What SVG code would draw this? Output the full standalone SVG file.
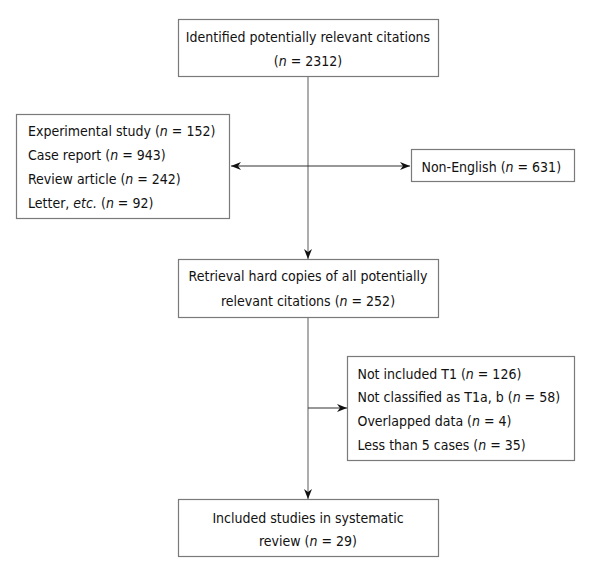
<svg xmlns="http://www.w3.org/2000/svg" width="590" height="575" viewBox="0 0 590 575">
<style>
.box{fill:#fff;stroke:#7a7a7a;stroke-width:1.2}
text{font-family:"DejaVu Sans Condensed","DejaVu Sans",sans-serif;font-stretch:condensed;font-size:14px;fill:#111}
.c{text-anchor:middle}
.vline{stroke:#999;stroke-width:1.6;fill:none}
.hline{stroke:#333;stroke-width:1.1;fill:none}
</style>
<defs>
<marker id="ah" viewBox="0 0 10 8" refX="10" refY="4" markerWidth="10" markerHeight="8" markerUnits="userSpaceOnUse" orient="auto-start-reverse">
<path d="M0,0 L10,4 L0,8 L3,4 z" fill="#111"/>
</marker>
</defs>
<g id="connectors">
<line class="vline" x1="308" y1="77" x2="308" y2="259" marker-end="url(#ah)"/>
<line class="vline" x1="308" y1="317" x2="308" y2="499" marker-end="url(#ah)"/>
<line class="hline" x1="231" y1="166" x2="410" y2="166" marker-start="url(#ah)" marker-end="url(#ah)"/>
<line class="hline" x1="308" y1="408" x2="347" y2="408" marker-end="url(#ah)"/>
</g>
<g id="identified">
<rect class="box" x="178.5" y="19.5" width="260" height="57"/>
<text class="c" x="308" y="42">Identified potentially relevant citations</text>
<text class="c" x="308" y="66">(<tspan font-style="italic">n</tspan> = 2312)</text>
</g>
<g id="excluded1">
<rect class="box" x="16.5" y="114.5" width="213" height="104"/>
<text x="28" y="136">Experimental study (<tspan font-style="italic">n</tspan> = 152)</text>
<text x="28" y="160">Case report (<tspan font-style="italic">n</tspan> = 943)</text>
<text x="28" y="184">Review article (<tspan font-style="italic">n</tspan> = 242)</text>
<text x="28" y="207.5">Letter, <tspan font-style="italic">etc.</tspan> (<tspan font-style="italic">n</tspan> = 92)</text>
</g>
<g id="nonenglish">
<rect class="box" x="411.5" y="149.5" width="163" height="32"/>
<text x="421.5" y="171.5">Non-English (<tspan font-style="italic">n</tspan> = 631)</text>
</g>
<g id="retrieval">
<rect class="box" x="178.5" y="259.5" width="260" height="58"/>
<text class="c" x="308" y="281">Retrieval hard copies of all potentially</text>
<text class="c" x="308" y="306">relevant citations (<tspan font-style="italic">n</tspan> = 252)</text>
</g>
<g id="excluded2">
<rect class="box" x="347.5" y="356.5" width="227" height="104"/>
<text x="357.5" y="378.5">Not included T1 (<tspan font-style="italic">n</tspan> = 126)</text>
<text x="357.5" y="402">Not classified as T1a, b (<tspan font-style="italic">n</tspan> = 58)</text>
<text x="357.5" y="426">Overlapped data (<tspan font-style="italic">n</tspan> = 4)</text>
<text x="357.5" y="450">Less than 5 cases (<tspan font-style="italic">n</tspan> = 35)</text>
</g>
<g id="included">
<rect class="box" x="178.5" y="499.5" width="260" height="57"/>
<text class="c" x="308" y="523">Included studies in systematic</text>
<text class="c" x="308" y="545.5">review (<tspan font-style="italic">n</tspan> = 29)</text>
</g>
</svg>
